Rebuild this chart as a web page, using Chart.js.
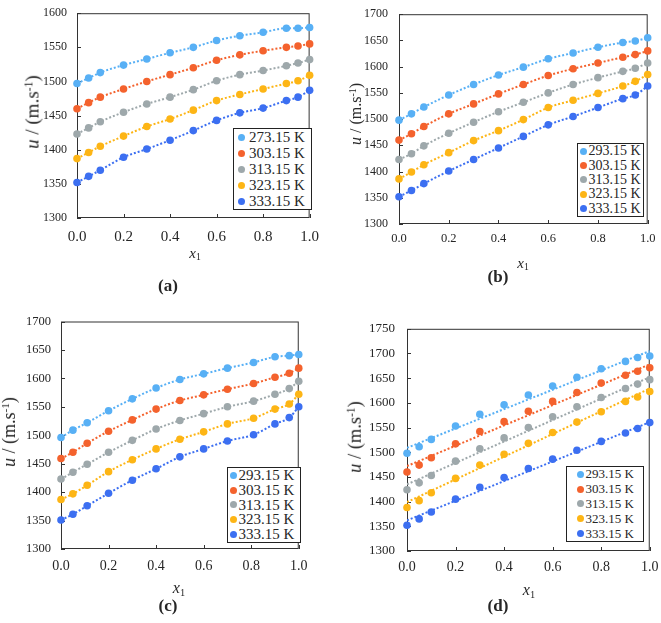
<!DOCTYPE html>
<html>
<head>
<meta charset="utf-8">
<script src="https://cdn.jsdelivr.net/npm/chart.js@4.4.0/dist/chart.umd.min.js"></script>
<style>
  body { margin: 0; width: 661px; height: 623px; background: #fff; position: relative; overflow: hidden;
         font-family: "Liberation Serif", "Times New Roman", serif; color: #262626; }
  canvas { position: absolute; }
  .ytitle { position: absolute; transform: translate(-50%, -50%) rotate(-90deg); white-space: nowrap; line-height: 1; }
  .xtitle, .tag { position: absolute; transform: translate(-50%, -50%); white-space: nowrap; line-height: 1; }
  .tag { font-weight: bold; }
  .legend { position: absolute; background: #fff; border: 1px solid #222; box-sizing: border-box; }
  .legend .row { display: flex; align-items: center; white-space: nowrap; }
  .legend .dot { border-radius: 50%; flex: none; }
  sup { font-size: 0.62em; vertical-align: 0.5em; line-height: 0; }
  sub { font-size: 0.65em; vertical-align: -0.25em; line-height: 0; }
</style>
</head>
<body>
<script>
// mole fraction x1 of each measured point
const xFrac = [0, 0.05, 0.1, 0.2, 0.3, 0.4, 0.5, 0.6, 0.7, 0.8, 0.9, 0.95, 1.0];
const xFracC = [0, 0.05, 0.11, 0.2, 0.3, 0.4, 0.5, 0.6, 0.7, 0.81, 0.9, 0.96, 1.0];

const tempsA = ['273.15 K', '303.15 K', '313.15 K', '323.15 K', '333.15 K'];
const temps = ['293.15 K', '303.15 K', '313.15 K', '323.15 K', '333.15 K'];
const colors = ['#58b0f5', '#f4622d', '#9ea8ab', '#fdb515', '#3c6ff1'];

// (a) speed of sound u / (m.s-1)
const uA1 = [1497, 1505, 1513, 1524, 1533, 1542, 1550, 1560, 1567, 1572, 1578, 1578, 1579];
const uA2 = [1460, 1469, 1477, 1489, 1500, 1510, 1520, 1531, 1539, 1545, 1550, 1552, 1555];
const uA3 = [1423, 1432, 1441, 1455, 1467, 1477, 1488, 1501, 1510, 1516, 1523, 1527, 1532];
const uA4 = [1387, 1396, 1405, 1420, 1434, 1445, 1458, 1472, 1481, 1489, 1497, 1501, 1509];
const uA5 = [1352, 1361, 1370, 1389, 1401, 1414, 1428, 1443, 1454, 1461, 1472, 1477, 1487];

// (b)
const uB1 = [1498, 1510, 1523, 1546, 1566, 1584, 1599, 1615, 1626, 1637, 1646, 1649, 1655];
const uB2 = [1460, 1472, 1486, 1510, 1529, 1548, 1566, 1583, 1596, 1607, 1618, 1623, 1630];
const uB3 = [1423, 1434, 1449, 1473, 1494, 1514, 1532, 1550, 1566, 1579, 1591, 1597, 1607];
const uB4 = [1386, 1399, 1413, 1436, 1459, 1478, 1499, 1522, 1536, 1549, 1563, 1572, 1585];
const uB5 = [1352, 1364, 1377, 1401, 1423, 1445, 1467, 1489, 1505, 1522, 1539, 1546, 1563];

// (c)
const uC1 = [1496, 1509, 1522, 1543, 1564, 1583, 1598, 1608, 1618, 1628, 1638, 1640, 1642];
const uC2 = [1459, 1470, 1486, 1507, 1527, 1546, 1561, 1571, 1581, 1591, 1602, 1609, 1618];
const uC3 = [1423, 1435, 1449, 1470, 1491, 1511, 1526, 1538, 1550, 1560, 1572, 1582, 1595];
const uC4 = [1387, 1397, 1412, 1436, 1457, 1476, 1493, 1506, 1520, 1530, 1546, 1555, 1572];
const uC5 = [1351, 1361, 1376, 1398, 1421, 1441, 1462, 1476, 1490, 1501, 1520, 1531, 1550];

// (d)
const uD1 = [1498, 1511, 1526, 1553, 1577, 1596, 1616, 1634, 1652, 1669, 1684, 1692, 1695];
const uD2 = [1460, 1474, 1489, 1517, 1542, 1562, 1583, 1603, 1621, 1640, 1656, 1664, 1671];
const uD3 = [1424, 1438, 1453, 1482, 1507, 1529, 1550, 1572, 1592, 1611, 1629, 1638, 1647];
const uD4 = [1388, 1402, 1418, 1447, 1474, 1496, 1518, 1540, 1561, 1582, 1603, 1612, 1623];
const uD5 = [1352, 1365, 1379, 1405, 1429, 1449, 1467, 1486, 1504, 1522, 1539, 1548, 1560];

// (d) linear trend lines, read at x1 = 0 and x1 = 1
const trendX = [0, 1];
const trendD1 = [1509, 1705];
const trendD2 = [1472, 1678];
const trendD3 = [1435, 1652];
const trendD4 = [1399, 1629];
const trendD5 = [1362, 1561];

// y axis ranges (min, max)
const yRangeA = [1300, 1600];
const yRangeB = [1300, 1700];
const yRangeC = [1300, 1700];
const yRangeD = [1300, 1750];

const FONT = '"Liberation Serif", "Times New Roman", serif';
Chart.defaults.font.family = FONT;
Chart.defaults.color = '#262626';

// frame and inward tick marks
const framePlugin = {
    id: 'frame',
    beforeDatasetsDraw(chart) {
        const { ctx, chartArea: a, scales } = chart;
        ctx.save();
        ctx.strokeStyle = '#333';
        ctx.lineWidth = 1;
        ctx.strokeRect(a.left + 0.5, a.top + 0.5, a.width - 1, a.height - 1);
        ctx.beginPath();
        scales.y.ticks.forEach((t, i) => {
            const y = Math.round(scales.y.getPixelForTick(i)) + 0.5;
            ctx.moveTo(a.left, y); ctx.lineTo(a.left + 4, y);
        });
        scales.x.ticks.forEach((t, i) => {
            const x = Math.round(scales.x.getPixelForTick(i)) + 0.5;
            ctx.moveTo(x, a.bottom); ctx.lineTo(x, a.bottom - 4);
        });
        ctx.stroke();
        ctx.restore();
    }
};

const panels = [
    { tag: '(a)', rect: [77, 6, 315, 218], xs: xFrac, ys: [uA1, uA2, uA3, uA4, uA5], labels: tempsA, yRange: yRangeA,
      yFont: 12, xFont: 15, yPad: 10, xPad: 10,
      legend: { box: [233, 128, 312, 210], font: 15, padLeft: 4, dot: 7, gap: 4 },
      yTitle: [32, 112, 19], xTitle: [195, 253, 15], tagPos: [168, 285] },
    { tag: '(b)', rect: [399, 6, 649, 224], xs: xFrac, ys: [uB1, uB2, uB3, uB4, uB5], labels: temps, yRange: yRangeB,
      yFont: 12, xFont: 12.5, yPad: 11, xPad: 7.5,
      legend: { box: [577, 143, 644, 217], font: 14, padLeft: 1.5, dot: 7, gap: 2 },
      yTitle: [356, 114, 16], xTitle: [523, 263, 15], tagPos: [498, 276] },
    { tag: '(c)', rect: [61, 314, 302, 549], xs: xFracC, ys: [uC1, uC2, uC3, uC4, uC5], labels: temps, yRange: yRangeC,
      yFont: 12.5, xFont: 14, yPad: 10, xPad: 8.5,
      legend: { box: [227, 467, 301, 543], font: 15, padLeft: 1.5, dot: 7, gap: 2 },
      yTitle: [9, 432, 18], xTitle: [179, 588, 16], tagPos: [168, 605] },
    { tag: '(d)', rect: [407, 319, 652, 551], xs: xFrac, ys: [uD1, uD2, uD3, uD4, uD5], labels: temps, yRange: yRangeD,
      trends: [trendD1, trendD2, trendD3, trendD4, trendD5],
      yFont: 13, xFont: 14, yPad: 12, xPad: 7.5,
      legend: { box: [566, 466, 644, 542], font: 13, padLeft: 10, dot: 7, gap: 1.5 },
      yTitle: [355, 437, 18.5], xTitle: [529, 590, 16], tagPos: [498, 605] }
];

function addText(cls, html, x, y, size) {
    const el = document.createElement('div');
    el.className = cls;
    el.innerHTML = html;
    el.style.left = x + 'px';
    el.style.top = y + 'px';
    el.style.fontSize = size + 'px';
    document.body.appendChild(el);
}

function buildLegend(chart, cfg) {
    const [l, t, r, b] = cfg.box;
    const box = document.createElement('div');
    box.className = 'legend';
    box.style.left = l + 'px';
    box.style.top = t + 'px';
    box.style.width = (r - l) + 'px';
    box.style.height = (b - t) + 'px';
    const items = chart.data.datasets.filter(ds => !ds.trend);
    const rowH = (b - t - 2) / items.length;
    items.forEach(ds => {
        const row = document.createElement('div');
        row.className = 'row';
        row.style.height = rowH + 'px';
        row.style.paddingLeft = cfg.padLeft + 'px';
        row.style.fontSize = cfg.font + 'px';
        const dot = document.createElement('span');
        dot.className = 'dot';
        dot.style.width = dot.style.height = cfg.dot + 'px';
        dot.style.background = ds.backgroundColor;
        dot.style.marginRight = cfg.gap + 'px';
        row.appendChild(dot);
        row.appendChild(document.createTextNode(ds.label));
        box.appendChild(row);
    });
    document.body.appendChild(box);
}

function drawPanel(p) {
    const [L, T, R, B] = p.rect;
    const yW = 50, xH = 32, pt = 10, pr = 14;
    const canvas = document.createElement('canvas');
    canvas.width = (R - L) + yW + pr;
    canvas.height = (B - T) + pt + xH;
    canvas.style.left = (L - yW) + 'px';
    canvas.style.top = (T - pt) + 'px';
    document.body.appendChild(canvas);

    const datasets = p.ys.map((arr, i) => ({
        label: p.labels[i],
        data: p.xs.map((x, j) => ({ x: x, y: arr[j] })),
        borderColor: colors[i],
        backgroundColor: colors[i],
        pointBackgroundColor: colors[i],
        pointRadius: 3.8,
        pointBorderWidth: 0,
        borderWidth: 2,
        borderDash: [2, 2],
        cubicInterpolationMode: 'monotone',
        showLine: !p.trends,
        clip: false,
        order: 0
    }));
    if (p.trends) {
        p.trends.forEach((tr, i) => datasets.push({
            label: p.labels[i] + ' fit',
            trend: true,
            data: trendX.map((x, j) => ({ x: x, y: tr[j] })),
            borderColor: colors[i],
            backgroundColor: colors[i],
            pointRadius: 0,
            borderWidth: 2,
            borderDash: [2, 2],
            order: 1
        }));
    }

    const chart = new Chart(canvas.getContext('2d'), {
        type: 'line',
        data: { datasets: datasets },
        plugins: [framePlugin],
        options: {
            responsive: false,
            animation: false,
            layout: { padding: { top: pt, right: pr, left: 0, bottom: 0 } },
            plugins: { legend: { display: false }, tooltip: { enabled: false } },
            scales: {
                x: {
                    type: 'linear', min: 0, max: 1,
                    ticks: { stepSize: 0.2, padding: p.xPad, maxRotation: 0, autoSkip: false,
                             font: { size: p.xFont }, callback: v => v.toFixed(1) },
                    grid: { display: false, drawTicks: false },
                    border: { display: false },
                    afterFit: s => { s.height = xH; }
                },
                y: {
                    type: 'linear', min: p.yRange[0], max: p.yRange[1],
                    ticks: { stepSize: 50, padding: p.yPad, font: { size: p.yFont }, callback: v => String(v) },
                    grid: { display: false, drawTicks: false },
                    border: { display: false },
                    afterFit: s => { s.width = yW; }
                }
            }
        }
    });

    buildLegend(chart, p.legend);
    addText('ytitle', '<i>u</i> / (m.s<sup>-1</sup>)', p.yTitle[0], p.yTitle[1], p.yTitle[2]);
    addText('xtitle', '<i>x</i><sub>1</sub>', p.xTitle[0], p.xTitle[1], p.xTitle[2]);
    addText('tag', p.tag, p.tagPos[0], p.tagPos[1], 17);
}

panels.forEach(drawPanel);
</script>
</body>
</html>
